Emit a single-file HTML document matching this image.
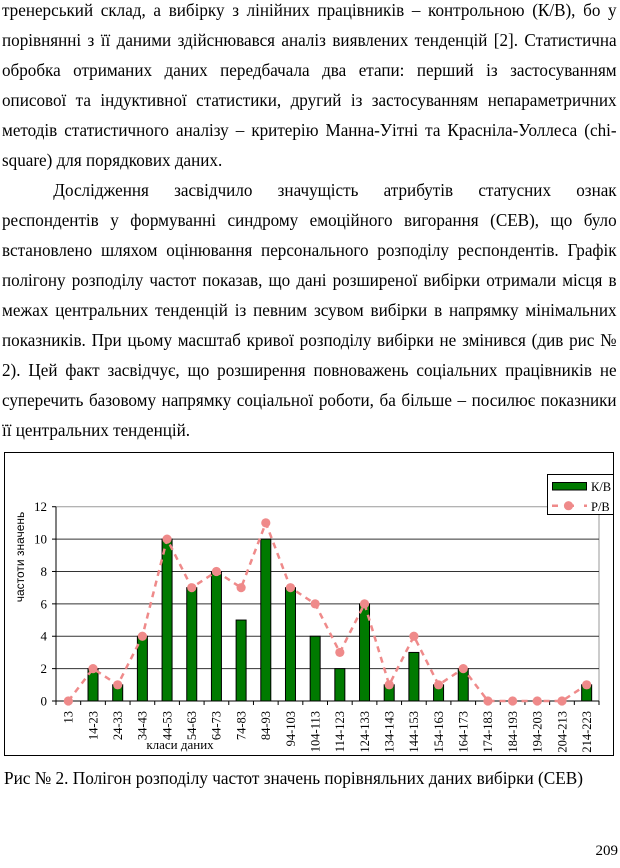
<!DOCTYPE html>
<html>
<head>
<meta charset="utf-8">
<style>
  html, body { margin:0; padding:0; background:#fff; }
  body { width:620px; height:868px; position:relative; overflow:hidden; }
  .txt { position:absolute; left:2px; top:-5.4px; width:647px; transform-origin:0 0; transform:scaleX(0.95);
         font-family:"Liberation Serif","Noto Serif CJK SC",serif; font-size:18px; line-height:30px; color:#000; }
  .l { display:flex; justify-content:space-between; height:30px; white-space:nowrap; }
  .e { display:block; height:30px; white-space:nowrap; }
  .ind { padding-left:54px; }
  svg { position:absolute; left:0; top:0; }
</style>
</head>
<body>
<div class="txt">
  <div class="l"><span>тренерський</span><span>склад,</span><span>а</span><span>вибірку</span><span>з</span><span>лінійних</span><span>працівників</span><span>–</span><span>контрольною</span><span>(К/В),</span><span>бо</span><span>у</span></div>
  <div class="l"><span>порівнянні</span><span>з</span><span>її</span><span>даними</span><span>здійснювався</span><span>аналіз</span><span>виявлених</span><span>тенденцій</span><span>[2].</span><span>Статистична</span></div>
  <div class="l"><span>обробка</span><span>отриманих</span><span>даних</span><span>передбачала</span><span>два</span><span>етапи:</span><span>перший</span><span>із</span><span>застосуванням</span></div>
  <div class="l"><span>описової</span><span>та</span><span>індуктивної</span><span>статистики,</span><span>другий</span><span>із</span><span>застосуванням</span><span>непараметричних</span></div>
  <div class="l"><span>методів</span><span>статистичного</span><span>аналізу</span><span>–</span><span>критерію</span><span>Манна-Уітні</span><span>та</span><span>Красніла-Уоллеса</span><span>(chi-</span></div>
  <div class="e">square) для порядкових даних.</div>
  <div class="l ind"><span>Дослідження</span><span>засвідчило</span><span>значущість</span><span>атрибутів</span><span>статусних</span><span>ознак</span></div>
  <div class="l"><span>респондентів</span><span>у</span><span>формуванні</span><span>синдрому</span><span>емоційного</span><span>вигорання</span><span>(СЕВ),</span><span>що</span><span>було</span></div>
  <div class="l"><span>встановлено</span><span>шляхом</span><span>оцінювання</span><span>персонального</span><span>розподілу</span><span>респондентів.</span><span>Графік</span></div>
  <div class="l"><span>полігону</span><span>розподілу</span><span>частот</span><span>показав,</span><span>що</span><span>дані</span><span>розширеної</span><span>вибірки</span><span>отримали</span><span>місця</span><span>в</span></div>
  <div class="l"><span>межах</span><span>центральних</span><span>тенденцій</span><span>із</span><span>певним</span><span>зсувом</span><span>вибірки</span><span>в</span><span>напрямку</span><span>мінімальних</span></div>
  <div class="l"><span>показників.</span><span>При</span><span>цьому</span><span>масштаб</span><span>кривої</span><span>розподілу</span><span>вибірки</span><span>не</span><span>змінився</span><span>(див</span><span>рис</span><span>№</span></div>
  <div class="l"><span>2).</span><span>Цей</span><span>факт</span><span>засвідчує,</span><span>що</span><span>розширення</span><span>повноважень</span><span>соціальних</span><span>працівників</span><span>не</span></div>
  <div class="l"><span>суперечить</span><span>базовому</span><span>напрямку</span><span>соціальної</span><span>роботи,</span><span>ба</span><span>більше</span><span>–</span><span>посилює</span><span>показники</span></div>
  <div class="e">її центральних тенденцій.</div>
</div>

<svg width="620" height="868" viewBox="0 0 620 868" xmlns="http://www.w3.org/2000/svg" font-family="Liberation Serif, serif">
  <!-- chart frame -->
  <rect x="4.5" y="452.5" width="609" height="303" fill="none" stroke="#000" stroke-width="1"/>

  <!-- plot area border (gray) -->
  <line x1="56" y1="506.72" x2="599" y2="506.72" stroke="#9a9a9a" stroke-width="1"/>
  <line x1="599" y1="506.72" x2="599" y2="701" stroke="#9a9a9a" stroke-width="1"/>

  <!-- gridlines -->
  <g stroke="#333" stroke-width="1">
    <line x1="56" y1="539.1" x2="599" y2="539.1"/>
    <line x1="56" y1="571.48" x2="599" y2="571.48"/>
    <line x1="56" y1="603.86" x2="599" y2="603.86"/>
    <line x1="56" y1="636.24" x2="599" y2="636.24"/>
    <line x1="56" y1="668.62" x2="599" y2="668.62"/>
  </g>

  <!-- bars K/B -->
  <g fill="#007a00" stroke="#000" stroke-width="1">
    <rect x="88.02" y="668.62" width="10" height="32.38"/>
    <rect x="112.70" y="684.81" width="10" height="16.19"/>
    <rect x="137.39" y="636.24" width="10" height="64.76"/>
    <rect x="162.07" y="539.1" width="10" height="161.9"/>
    <rect x="186.75" y="587.67" width="10" height="113.33"/>
    <rect x="211.43" y="571.48" width="10" height="129.52"/>
    <rect x="236.11" y="620.05" width="10" height="80.95"/>
    <rect x="260.80" y="539.1" width="10" height="161.9"/>
    <rect x="285.48" y="587.67" width="10" height="113.33"/>
    <rect x="310.16" y="636.24" width="10" height="64.76"/>
    <rect x="334.84" y="668.62" width="10" height="32.38"/>
    <rect x="359.52" y="603.86" width="10" height="97.14"/>
    <rect x="384.20" y="684.81" width="10" height="16.19"/>
    <rect x="408.89" y="652.43" width="10" height="48.57"/>
    <rect x="433.57" y="684.81" width="10" height="16.19"/>
    <rect x="458.25" y="668.62" width="10" height="32.38"/>
    <rect x="581.66" y="684.81" width="10" height="16.19"/>
  </g>

  <!-- axes -->
  <line x1="56" y1="506.72" x2="56" y2="701" stroke="#000" stroke-width="1"/>
  <line x1="52" y1="701" x2="599" y2="701" stroke="#000" stroke-width="1"/>
  <g stroke="#000" stroke-width="1">
    <line x1="52" y1="506.72" x2="56" y2="506.72"/>
    <line x1="52" y1="539.1" x2="56" y2="539.1"/>
    <line x1="52" y1="571.48" x2="56" y2="571.48"/>
    <line x1="52" y1="603.86" x2="56" y2="603.86"/>
    <line x1="52" y1="636.24" x2="56" y2="636.24"/>
    <line x1="52" y1="668.62" x2="56" y2="668.62"/>
    <line x1="56" y1="701" x2="56" y2="705"/>
    <line x1="80.68" y1="701" x2="80.68" y2="705"/>
    <line x1="105.36" y1="701" x2="105.36" y2="705"/>
    <line x1="130.05" y1="701" x2="130.05" y2="705"/>
    <line x1="154.73" y1="701" x2="154.73" y2="705"/>
    <line x1="179.41" y1="701" x2="179.41" y2="705"/>
    <line x1="204.09" y1="701" x2="204.09" y2="705"/>
    <line x1="228.77" y1="701" x2="228.77" y2="705"/>
    <line x1="253.46" y1="701" x2="253.46" y2="705"/>
    <line x1="278.14" y1="701" x2="278.14" y2="705"/>
    <line x1="302.82" y1="701" x2="302.82" y2="705"/>
    <line x1="327.50" y1="701" x2="327.50" y2="705"/>
    <line x1="352.18" y1="701" x2="352.18" y2="705"/>
    <line x1="376.87" y1="701" x2="376.87" y2="705"/>
    <line x1="401.55" y1="701" x2="401.55" y2="705"/>
    <line x1="426.23" y1="701" x2="426.23" y2="705"/>
    <line x1="450.91" y1="701" x2="450.91" y2="705"/>
    <line x1="475.59" y1="701" x2="475.59" y2="705"/>
    <line x1="500.27" y1="701" x2="500.27" y2="705"/>
    <line x1="524.96" y1="701" x2="524.96" y2="705"/>
    <line x1="549.64" y1="701" x2="549.64" y2="705"/>
    <line x1="574.32" y1="701" x2="574.32" y2="705"/>
    <line x1="599" y1="701" x2="599" y2="705"/>
  </g>

  <!-- line series P/B -->
  <polyline fill="none" stroke="#ef8a8a" stroke-width="2.5" stroke-dasharray="6,5"
    points="68.34,701 93.02,668.62 117.70,684.81 142.39,636.24 167.07,539.1 191.75,587.67 216.43,571.48 241.11,587.67 265.80,522.91 290.48,587.67 315.16,603.86 339.84,652.43 364.52,603.86 389.20,684.81 413.89,636.24 438.57,684.81 463.25,668.62 487.93,701 512.61,701 537.30,701 561.98,701 586.66,684.81"/>
  <g fill="#ef8a8a">
    <circle cx="68.34" cy="701" r="4.6"/>
    <circle cx="93.02" cy="668.62" r="4.6"/>
    <circle cx="117.70" cy="684.81" r="4.6"/>
    <circle cx="142.39" cy="636.24" r="4.6"/>
    <circle cx="167.07" cy="539.1" r="4.6"/>
    <circle cx="191.75" cy="587.67" r="4.6"/>
    <circle cx="216.43" cy="571.48" r="4.6"/>
    <circle cx="241.11" cy="587.67" r="4.6"/>
    <circle cx="265.80" cy="522.91" r="4.6"/>
    <circle cx="290.48" cy="587.67" r="4.6"/>
    <circle cx="315.16" cy="603.86" r="4.6"/>
    <circle cx="339.84" cy="652.43" r="4.6"/>
    <circle cx="364.52" cy="603.86" r="4.6"/>
    <circle cx="389.20" cy="684.81" r="4.6"/>
    <circle cx="413.89" cy="636.24" r="4.6"/>
    <circle cx="438.57" cy="684.81" r="4.6"/>
    <circle cx="463.25" cy="668.62" r="4.6"/>
    <circle cx="487.93" cy="701" r="4.6"/>
    <circle cx="512.61" cy="701" r="4.6"/>
    <circle cx="537.30" cy="701" r="4.6"/>
    <circle cx="561.98" cy="701" r="4.6"/>
    <circle cx="586.66" cy="684.81" r="4.6"/>
  </g>

  <!-- y tick labels -->
  <g font-size="13" text-anchor="end" fill="#000">
    <text x="47" y="511.2">12</text>
    <text x="47" y="543.6">10</text>
    <text x="47" y="576">8</text>
    <text x="47" y="608.4">6</text>
    <text x="47" y="640.7">4</text>
    <text x="47" y="673.1">2</text>
    <text x="47" y="705.5">0</text>
  </g>

  <!-- y axis title -->
  <text transform="translate(24,557) rotate(-90)" font-family="Liberation Sans, sans-serif" font-size="12" text-anchor="middle" fill="#000">частоти значень</text>

  <!-- x axis title -->
  <text x="180" y="749" font-size="13" text-anchor="middle" fill="#000">класи даних</text>

  <!-- x tick labels -->
  <g font-size="12.5" text-anchor="end" fill="#000">
    <text transform="translate(72.6,711) rotate(-90)">13</text>
    <text transform="translate(97.3,711) rotate(-90)">14-23</text>
    <text transform="translate(122.0,711) rotate(-90)">24-33</text>
    <text transform="translate(146.7,711) rotate(-90)">34-43</text>
    <text transform="translate(171.4,711) rotate(-90)">44-53</text>
    <text transform="translate(196.1,711) rotate(-90)">54-63</text>
    <text transform="translate(220.7,711) rotate(-90)">64-73</text>
    <text transform="translate(245.4,711) rotate(-90)">74-83</text>
    <text transform="translate(270.1,711) rotate(-90)">84-93</text>
    <text transform="translate(294.8,711) rotate(-90)">94-103</text>
    <text transform="translate(319.5,711) rotate(-90)">104-113</text>
    <text transform="translate(344.1,711) rotate(-90)">114-123</text>
    <text transform="translate(368.8,711) rotate(-90)">124-133</text>
    <text transform="translate(393.5,711) rotate(-90)">134-143</text>
    <text transform="translate(418.2,711) rotate(-90)">144-153</text>
    <text transform="translate(442.9,711) rotate(-90)">154-163</text>
    <text transform="translate(467.6,711) rotate(-90)">164-173</text>
    <text transform="translate(492.2,711) rotate(-90)">174-183</text>
    <text transform="translate(516.9,711) rotate(-90)">184-193</text>
    <text transform="translate(541.6,711) rotate(-90)">194-203</text>
    <text transform="translate(566.3,711) rotate(-90)">204-213</text>
    <text transform="translate(591.0,711) rotate(-90)">214-223</text>
  </g>

  <!-- legend -->
  <rect x="547.5" y="474.5" width="66" height="40" fill="#fff" stroke="#000" stroke-width="1"/>
  <rect x="552.5" y="482.5" width="34" height="7.5" fill="#007a00" stroke="#000" stroke-width="1"/>
  <text x="591" y="491" font-size="12.5" fill="#000">К/В</text>
  <line x1="552" y1="505.7" x2="587" y2="505.7" stroke="#ef8a8a" stroke-width="2.5" stroke-dasharray="6,10"/>
  <circle cx="568.5" cy="505.7" r="4.6" fill="#ef8a8a"/>
  <text x="591" y="511" font-size="12.5" fill="#000">Р/В</text>

  <!-- caption -->
  <text x="4" y="784" font-size="18" textLength="579" lengthAdjust="spacingAndGlyphs" fill="#000">Рис № 2. Полігон розподілу частот значень порівняльних даних вибірки (СЕВ)</text>

  <!-- page number -->
  <text x="618" y="855" font-size="15" text-anchor="end" fill="#000">209</text>
</svg>
</body>
</html>
